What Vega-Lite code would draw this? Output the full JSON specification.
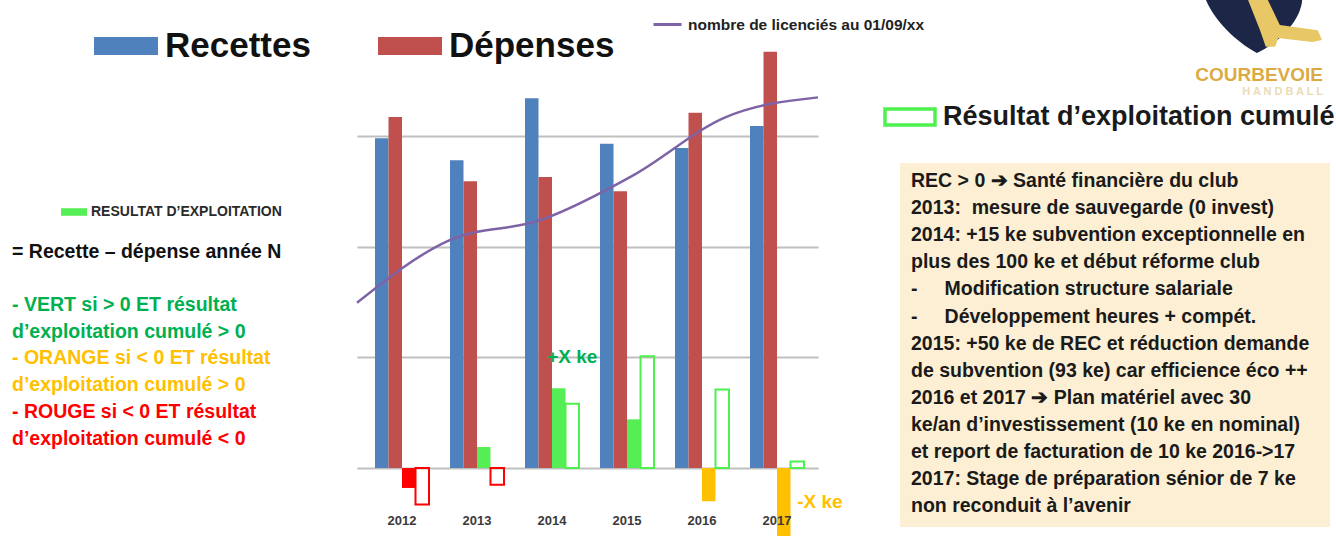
{
  "$schema": "https://vega.github.io/schema/vega-lite/v6.json",
  "padding": {"left": 12, "top": 0, "right": 0, "bottom": 0},
  "background": "white",
  "config": {
    "font": "Liberation Sans",
    "view": {"stroke": null},
    "legend": {"padding": 0, "titlePadding": 0, "labelFont": "Liberation Sans", "rowPadding": 0},
    "axis": {"labelFont": "Liberation Sans"}
  },
  "bounds": "flush",
  "spacing": 82,
  "resolve": {"scale": {"color": "independent", "fill": "independent", "stroke": "independent", "shape": "independent"}},
  "hconcat": [
    {
      "width": 263,
      "height": 536,
      "data": {"values": [
        {"ligne": 0, "regle": "definition", "texte": "= Recette – dépense année N"},
        {"ligne": 2, "regle": "vert", "texte": "- VERT si > 0 ET résultat"},
        {"ligne": 3, "regle": "vert", "texte": "d’exploitation cumulé > 0"},
        {"ligne": 4, "regle": "orange", "texte": "- ORANGE si < 0 ET résultat"},
        {"ligne": 5, "regle": "orange", "texte": "d’exploitation cumulé > 0"},
        {"ligne": 6, "regle": "rouge", "texte": "- ROUGE si < 0 ET résultat"},
        {"ligne": 7, "regle": "rouge", "texte": "d’exploitation cumulé < 0"}
      ]},
      "mark": {"type": "text", "align": "left", "baseline": "middle", "fontSize": 19.5, "fontWeight": "bold"},
      "encoding": {
        "x": {"datum": 0, "type": "quantitative", "scale": {"domain": [0, 1], "nice": false, "zero": false}, "axis": null},
        "y": {"field": "ligne", "type": "quantitative", "scale": {"domain": [-9.43, 10.65], "reverse": true, "nice": false, "zero": false}, "axis": null},
        "text": {"field": "texte"},
        "color": {"field": "regle", "type": "nominal", "scale": {"domain": ["definition", "vert", "orange", "rouge"], "range": ["#111111", "#00b050", "#ffc000", "#ff0000"]}, "legend": null}
      }
    },
    {
      "width": 461,
      "height": 536,
      "layer": [
        {
          "layer": [
            {
              "data": {"values": [
                {"annee": "2012", "serie": "Recettes", "valeur": 298},
                {"annee": "2012", "serie": "Dépenses", "valeur": 317},
                {"annee": "2013", "serie": "Recettes", "valeur": 278},
                {"annee": "2013", "serie": "Dépenses", "valeur": 259},
                {"annee": "2014", "serie": "Recettes", "valeur": 334},
                {"annee": "2014", "serie": "Dépenses", "valeur": 263},
                {"annee": "2015", "serie": "Recettes", "valeur": 293},
                {"annee": "2015", "serie": "Dépenses", "valeur": 250},
                {"annee": "2016", "serie": "Recettes", "valeur": 289},
                {"annee": "2016", "serie": "Dépenses", "valeur": 321},
                {"annee": "2017", "serie": "Recettes", "valeur": 309},
                {"annee": "2017", "serie": "Dépenses", "valeur": 376}
              ]},
              "mark": {"type": "bar"},
              "encoding": {
                "x": {"field": "annee", "type": "nominal", "scale": {"type": "band", "paddingInner": 0.28, "paddingOuter": 0.2133, "align": 0.5625},
                  "axis": {"title": null, "domain": false, "ticks": false, "labelAngle": 0, "labelFontSize": 13, "labelFontWeight": "bold", "labelColor": "#3a3a3a", "labelPadding": 0, "offset": -22, "zindex": 1}},
                "xOffset": {"field": "serie", "type": "nominal", "scale": {"domain": ["Recettes", "Dépenses", "Résultat", "Cumulé"], "paddingInner": 0, "paddingOuter": 0}},
                "y": {"field": "valeur", "type": "quantitative", "scale": {"domain": [-61.4, 422.8], "nice": false, "clamp": true},
                  "axis": {"title": null, "values": [0, 100, 200, 300], "labels": false, "ticks": false, "domain": false, "grid": true, "gridColor": "#bfbfbf", "gridWidth": 2}},
                "fill": {"field": "serie", "type": "nominal", "scale": {"domain": ["Recettes", "Dépenses"], "range": ["#4f81bd", "#c0504d"]},
                  "legend": {"title": null, "orient": "none", "legendX": -263, "legendY": 14, "direction": "horizontal", "symbolType": "M-1,-0.28H1V0.28H-1Z", "symbolSize": 4096, "symbolStrokeWidth": 0, "labelFontSize": 35, "labelFontWeight": "bold", "labelColor": "#111111", "labelOffset": 7, "columnPadding": 67, "labelLimit": 400}}
              }
            },
            {
              "data": {"values": [
                {"annee": "2012", "serie": "Résultat", "valeur": -18, "statut": "rouge"},
                {"annee": "2013", "serie": "Résultat", "valeur": 19, "statut": "vert"},
                {"annee": "2014", "serie": "Résultat", "valeur": 72, "statut": "vert"},
                {"annee": "2015", "serie": "Résultat", "valeur": 44, "statut": "vert"},
                {"annee": "2016", "serie": "Résultat", "valeur": -30, "statut": "orange"},
                {"annee": "2017", "serie": "Résultat", "valeur": -67, "statut": "orange"}
              ]},
              "mark": {"type": "bar"},
              "encoding": {
                "x": {"field": "annee", "type": "nominal"},
                "xOffset": {"field": "serie", "type": "nominal", "scale": {"domain": ["Recettes", "Dépenses", "Résultat", "Cumulé"], "paddingInner": 0, "paddingOuter": 0}},
                "y": {"field": "valeur", "type": "quantitative"},
                "fill": {"field": "statut", "type": "nominal", "scale": {"domain": ["vert", "orange", "rouge"], "range": ["#55ee55", "#ffc000", "#ff0000"]},
                  "legend": {"title": null, "orient": "none", "legendX": -296, "legendY": 199, "values": ["vert"], "labelExpr": "'RESULTAT D’EXPLOITATION'", "symbolType": "M-1,-0.29H1V0.29H-1Z", "symbolSize": 676, "symbolStrokeWidth": 0, "labelFontSize": 14, "labelFontWeight": "bold", "labelColor": "#2a2a2a", "labelOffset": 4, "labelLimit": 400}}
              }
            },
            {
              "data": {"values": [
                {"annee": "2012", "serie": "Cumulé", "valeur": -33, "statut": "rouge"},
                {"annee": "2013", "serie": "Cumulé", "valeur": -15, "statut": "rouge"},
                {"annee": "2014", "serie": "Cumulé", "valeur": 58, "statut": "vert"},
                {"annee": "2015", "serie": "Cumulé", "valeur": 101, "statut": "vert"},
                {"annee": "2016", "serie": "Cumulé", "valeur": 71, "statut": "vert"},
                {"annee": "2017", "serie": "Cumulé", "valeur": 6, "statut": "vert"}
              ]},
              "mark": {"type": "bar", "filled": false, "strokeWidth": 2},
              "encoding": {
                "x": {"field": "annee", "type": "nominal"},
                "xOffset": {"field": "serie", "type": "nominal", "scale": {"domain": ["Recettes", "Dépenses", "Résultat", "Cumulé"], "paddingInner": 0, "paddingOuter": 0}},
                "y": {"field": "valeur", "type": "quantitative"},
                "color": {"field": "statut", "type": "nominal", "scale": {"domain": ["vert", "rouge"], "range": ["#4ef04e", "#ff0000"]},
                  "legend": {"title": null, "orient": "none", "legendX": 526, "legendY": 90, "values": ["vert"], "labelExpr": "'Résultat d’exploitation cumulé'", "symbolType": "M-1,-0.32H1V0.32H-1Z", "symbolSize": 2500, "symbolStrokeWidth": 3.5, "symbolFillColor": "transparent", "labelFontSize": 27, "labelFontWeight": "bold", "labelColor": "#1a1a1a", "labelOffset": 6, "labelLimit": 500}}
              }
            },
            {
              "data": {"values": [{"annee": "2014", "serie": "Cumulé", "valeur": 100, "texte": "+X ke"}]},
              "mark": {"type": "text", "fontSize": 19, "fontWeight": "bold", "color": "#00b050", "align": "center", "baseline": "middle"},
              "encoding": {
                "x": {"field": "annee", "type": "nominal"},
                "xOffset": {"field": "serie", "type": "nominal", "scale": {"domain": ["Recettes", "Dépenses", "Résultat", "Cumulé"], "paddingInner": 0, "paddingOuter": 0}},
                "y": {"field": "valeur", "type": "quantitative"},
                "text": {"field": "texte"}
              }
            },
            {
              "data": {"values": [{"annee": "2017", "serie": "Cumulé", "valeur": -31, "texte": "-X ke"}]},
              "mark": {"type": "text", "fontSize": 19, "fontWeight": "bold", "color": "#ffc000", "align": "left", "baseline": "middle"},
              "encoding": {
                "x": {"field": "annee", "type": "nominal"},
                "xOffset": {"field": "serie", "type": "nominal", "scale": {"domain": ["Recettes", "Dépenses", "Résultat", "Cumulé"], "paddingInner": 0, "paddingOuter": 0}},
                "y": {"field": "valeur", "type": "quantitative"},
                "text": {"field": "texte"}
              }
            }
          ],
          "resolve": {"scale": {"fill": "independent"}}
        },
        {
          "data": {"values": [
            {"annee": "2012", "indicateur": "nombre de licenciés au 01/09/xx", "licencies": 261},
            {"annee": "2013", "indicateur": "nombre de licenciés au 01/09/xx", "licencies": 331},
            {"annee": "2014", "indicateur": "nombre de licenciés au 01/09/xx", "licencies": 354},
            {"annee": "2015", "indicateur": "nombre de licenciés au 01/09/xx", "licencies": 404},
            {"annee": "2016", "indicateur": "nombre de licenciés au 01/09/xx", "licencies": 469},
            {"annee": "2017", "indicateur": "nombre de licenciés au 01/09/xx", "licencies": 491}
          ]},
          "mark": {"type": "line", "interpolate": "monotone", "strokeWidth": 2.5},
          "encoding": {
            "x": {"field": "annee", "type": "ordinal", "scale": {"type": "point", "padding": 0}, "axis": null},
            "y": {"field": "licencies", "type": "quantitative", "scale": {"domain": [0, 600], "nice": false}, "axis": null},
            "stroke": {"field": "indicateur", "type": "nominal", "scale": {"range": ["#7e63a6"]},
              "legend": {"title": null, "orient": "none", "legendX": 295, "legendY": 9, "symbolType": "stroke", "symbolSize": 784, "symbolStrokeWidth": 3, "labelFontSize": 15.5, "labelFontWeight": "bold", "labelColor": "#222222", "labelOffset": 5, "labelLimit": 400}}
          }
        }
      ],
      "resolve": {"scale": {"x": "independent", "y": "independent", "stroke": "independent"}}
    },
    {
      "bounds": "flush",
      "spacing": 163,
      "resolve": {"scale": {"color": "independent", "shape": "independent"}},
      "vconcat": [
        {
          "bounds": "flush",
          "spacing": 0,
          "hconcat": [
            {"width": 294, "height": 52, "data": {"values": []}, "mark": "point"},
            {
              "width": 130,
              "height": 52,
              "data": {"values": [{"embleme": "bouclier"}, {"embleme": "joueur"}]},
              "mark": {"type": "point", "filled": true, "opacity": 1, "strokeWidth": 0, "size": 10816},
              "encoding": {
                "shape": {"field": "embleme", "type": "nominal", "scale": {"domain": ["bouclier", "joueur"], "range": ["M-1.02,-0.5L0.83,-0.5C0.8,-0.1 0.4,0.3 -0.04,0.52C-0.45,0.3 -0.85,-0.1 -1.02,-0.5Z", "M-0.21,-0.5L0.17,-0.5L0.4,-0.02L1.13,0.08L1.21,0.27L1.02,0.31L0.37,0.23L0.31,0.4L0.13,0.4L0.02,0.08Z"]}, "legend": null},
                "color": {"field": "embleme", "type": "nominal", "scale": {"domain": ["bouclier", "joueur"], "range": ["#1c2748", "#e8c766"]}, "legend": null}
              }
            }
          ]
        },
        {
          "width": 430,
          "height": 364,
          "view": {"fill": "#fcefd3", "stroke": null},
          "title": {"text": "COURBEVOIE", "subtitle": "H A N D B A L L\u00a0\u00a0\u00a0\u00a0\u00a0\u00a0\u00a0", "anchor": "end", "orient": "top", "color": "#dcaa45", "fontSize": 19, "fontWeight": "bold", "subtitleColor": "#eadbb5", "subtitleFontSize": 11, "subtitleFontWeight": "bold", "subtitlePadding": 1, "offset": 66, "dx": -7},
          "data": {"values": [
            {"ligne": 0, "texte": "REC > 0 ➔ Santé financière du club"},
            {"ligne": 1, "texte": "2013:\u00a0 mesure de sauvegarde (0 invest)"},
            {"ligne": 2, "texte": "2014: +15 ke subvention exceptionnelle en"},
            {"ligne": 3, "texte": "plus des 100 ke et début réforme club"},
            {"ligne": 4, "texte": "-\u00a0\u00a0\u00a0\u00a0\u00a0Modification structure salariale"},
            {"ligne": 5, "texte": "-\u00a0\u00a0\u00a0\u00a0\u00a0Développement heures + compét."},
            {"ligne": 6, "texte": "2015: +50 ke de REC et réduction demande"},
            {"ligne": 7, "texte": "de subvention (93 ke) car efficience éco ++"},
            {"ligne": 8, "texte": "2016 et 2017 ➔ Plan matériel avec 30"},
            {"ligne": 9, "texte": "ke/an d’investissement (10 ke en nominal)"},
            {"ligne": 10, "texte": "et report de facturation de 10 ke 2016->17"},
            {"ligne": 11, "texte": "2017: Stage de préparation sénior de 7 ke"},
            {"ligne": 12, "texte": "non reconduit à l’avenir"}
          ]},
          "mark": {"type": "text", "align": "left", "baseline": "middle", "fontSize": 19.5, "fontWeight": "bold", "color": "#1a1a1a"},
          "encoding": {
            "x": {"datum": 0, "type": "quantitative", "scale": {"domain": [0, 1], "padding": 11, "nice": false, "zero": false}, "axis": null},
            "y": {"field": "ligne", "type": "quantitative", "scale": {"domain": [0, 12.1], "padding": 18, "reverse": true, "nice": false, "zero": false}, "axis": null},
            "text": {"field": "texte"}
          }
        }
      ]
    }
  ]
}
